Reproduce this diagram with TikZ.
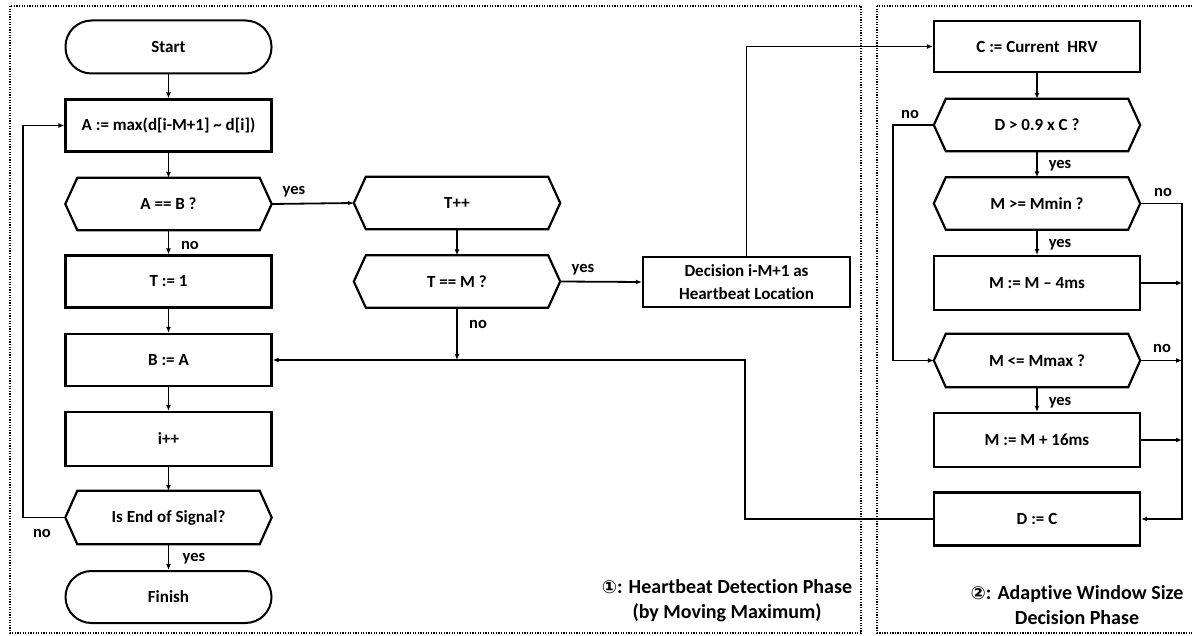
\documentclass[tikz,border=0pt]{standalone}
\usepackage{fontspec}
\setmainfont{Carlito}[Ligatures=NoCommon]
\newfontfamily\symfont{DejaVu Sans}
\usetikzlibrary{arrows.meta}
\begin{document}
\begin{tikzpicture}[x=1pt,y=-1pt,
  every node/.style={font=\bfseries\fontsize{17}{22.5}\selectfont, inner sep=0pt},
  procbox/.style={draw, line width=2.2pt, minimum width=206pt, minimum height=52pt, align=center},
  termbox/.style={draw, line width=2pt, rounded corners=26pt, minimum width=206pt, minimum height=53pt},
  hexbox/.style={minimum width=206pt, minimum height=52pt},
  hexline/.style={line width=2.2pt, line join=miter},
  arr/.style={line width=1.8pt, -{Latex[length=6pt,width=5pt]}},
  lbl/.style={font=\bfseries\fontsize{16.5}{19}\selectfont},
  frame/.style={line width=1.8pt, dash pattern=on 1.3pt off 1.3pt},
  caption/.style={font=\bfseries\fontsize{20}{25}\selectfont, align=center}
]
\useasboundingbox (0,0) rectangle (1192,636);

% phase frames
\draw[frame] (10,6) rectangle (861,633);
\draw[frame] (877,6) rectangle (1198,633);

% heartbeat detection column
\node[termbox] (start) at (168.5,47) {Start};
\node[procbox] (amax) at (168.5,125.5) {A := max(d[i-M+1] \textasciitilde{} d[i])};
\node[hexbox]  (ab)   at (168.5,204) {A == B ?};
\node[procbox] (t1)   at (168.5,281.5) {T := 1};
\node[procbox] (ba)   at (168.5,360) {B := A};
\node[procbox, minimum height=54pt] (ipp) at (168.5,439) {i++};
\node[hexbox, minimum height=53pt] (eos) at (168.5,517.5) {Is End of Signal?};
\node[termbox, minimum height=52pt] (fin) at (168.5,597) {Finish};

% counter branch
\node[hexbox] (tpp) at (457,203) {T++};
\node[hexbox] (tm)  at (457,281.5) {T == M ?};
\node[procbox, minimum width=207pt, minimum height=50pt] (dec) at (746.5,282)
  {Decision i-M+1 as\\Heartbeat Location};

% adaptive window column
\node[procbox, minimum height=51pt] (chrv) at (1037,46.5) {C := Current~~HRV};
\node[hexbox] (d09)  at (1037,125) {D > 0.9 x C ?};
\node[hexbox] (mmin) at (1037,203.5) {M >= Mmin ?};
\node[procbox, minimum height=54pt] (m4) at (1037,283) {M := M -- 4ms};
\node[hexbox, minimum height=53pt] (mmax) at (1037,360.5) {M <= Mmax ?};
\node[procbox, minimum height=54pt] (m16) at (1037,440) {M := M + 16ms};
\node[procbox, minimum height=53pt] (dc) at (1037,519) {D := C};

% hexagonal decision outlines
\foreach \n in {ab,eos,tpp,tm,d09,mmin,mmax}
  \draw[hexline] (\n.west) -- ([xshift=12pt]\n.north west) -- ([xshift=-12pt]\n.north east)
    -- (\n.east) -- ([xshift=-12pt]\n.south east) -- ([xshift=12pt]\n.south west) -- cycle;

% routing coordinates
\coordinate (loopx) at (23,0);
\coordinate (retx) at (745,0);
\coordinate (lx) at (893,0);
\coordinate (rx) at (1182,0);

% connectors, left column
\draw[arr] (start) -- (amax);
\draw[arr] (amax) -- (ab);
\draw[arr] (ab) -- (t1);
\draw[arr] (t1) -- (ba);
\draw[arr] (ba) -- (ipp);
\draw[arr] (ipp) -- (eos);
\draw[arr] (eos) -- (fin);
\draw[arr] (eos.west) -- (eos.west -| loopx) |- (amax.west);

% connectors, counter branch
\draw[arr] (ab.east) -- (tpp.west);
\draw[arr] (tpp) -- (tm);
\draw[arr] (tm.east) -- (dec.west);
\draw[arr] (tm.south) -- (tm.south |- ba.east);
\draw[arr] (dc.west) -- (dc.west -| retx) |- (ba.east);
\draw[arr] (dec.north) |- (chrv.west);

% connectors, adaptive window column
\draw[arr] (chrv) -- (d09);
\draw[arr] (d09) -- (mmin);
\draw[arr] (mmin) -- (m4);
\draw[arr] (mmax) -- (m16);
\draw[arr] (d09.west) -- (d09.west -| lx) |- (mmax.west);
\draw[arr] (mmin.east) -- (mmin.east -| rx) |- (dc.east);
\draw[arr] (m4.east) -- (m4.east -| rx);
\draw[arr] (mmax.east) -- (mmax.east -| rx);
\draw[arr] (m16.east) -- (m16.east -| rx);

% branch labels
\node[lbl] (l1) at (294,192) {yes};
\node[lbl] (l2) at (190,245) {no};
\node[lbl] (l3) at (194,559) {yes};
\node[lbl] (l4) at (42,533) {no};
\node[lbl] (l5) at (583,270) {yes};
\node[lbl] (l6) at (478,324) {no};
\node[lbl] (l7) at (910,114) {no};
\node[lbl] (l8) at (1060,166) {yes};
\node[lbl] (l9) at (1163,192) {no};
\node[lbl] (l10) at (1060,245) {yes};
\node[lbl] (l11) at (1162,348) {no};
\node[lbl] (l12) at (1060,403) {yes};

% phase captions
\node[caption] (cap1) at (727,601) {{\symfont\fontsize{18}{25}\selectfont ①}: Heartbeat Detection Phase\\(by Moving Maximum)};
\node[caption] (cap2) at (1077,605) {{\symfont\fontsize{18}{25}\selectfont ②}: Adaptive Window Size\\Decision Phase};
\end{tikzpicture}
\end{document}
